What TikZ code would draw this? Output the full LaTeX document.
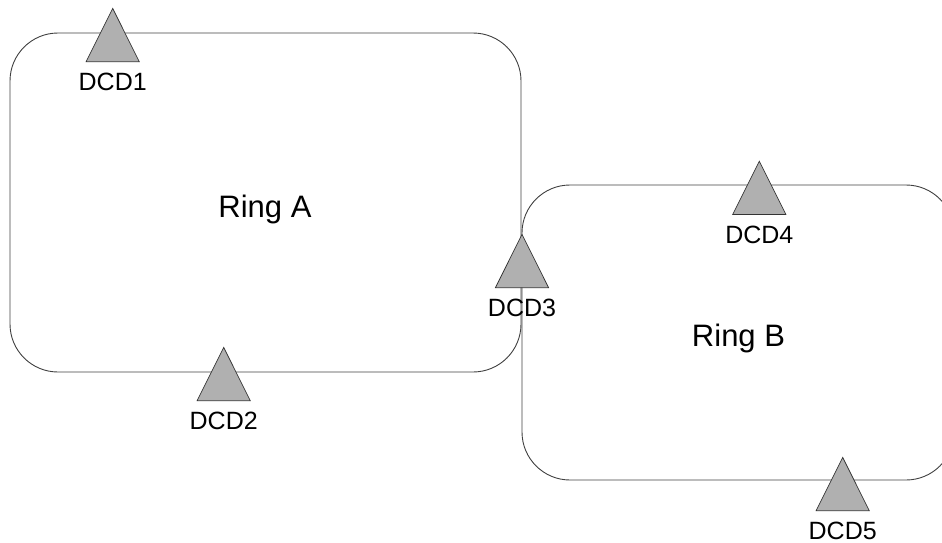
\documentclass[tikz,border=0pt]{standalone}
\usepackage{fontspec}
\setmainfont{Liberation Sans}

\begin{document}
\begin{tikzpicture}[x=1pt, y=-1pt]
    \tikzstyle{every node}=[align = center, inner sep=0pt]
    \tikzstyle{ring} = [draw=black!75, line width=0.9pt, rounded corners=48pt]
    \tikzstyle{ringlabel} = [anchor=base, font=\fontsize{31}{36}\selectfont]
    \tikzstyle{dcdlabel} = [anchor=base, font=\fontsize{25}{30}\selectfont]
    \tikzstyle{dcd} = [draw=black!80, line width=0.7pt, fill=black!31]
    \clip (0,0) rectangle (942,543);
    \node[ring, minimum width=511pt, minimum height=339pt] (ringA) at (265.5,202.5) {};
    \node[ring, minimum width=432pt, minimum height=295pt] (ringB) at (738,332.5) {};
    \node[ringlabel] (labelA) at (265,217.7) {Ring A};
    \node[ringlabel] (labelB) at (738.5,346.7) {Ring B};
    % devices on the rings, given by the middle of the base
    \foreach \n/\x/\y in {1/112.7/61.7, 2/223.7/400.7, 3/522/287.7, 4/759.3/214.5, 5/842.7/510.7} {
        \draw[dcd] (\x-26.6,\y) -- (\x+26.6,\y) -- (\x,\y-53.3) -- cycle;
        \node[dcdlabel] (dcd\n) at (\x,\y+28.5) {DCD\n};
    }
\end{tikzpicture}
\end{document}
